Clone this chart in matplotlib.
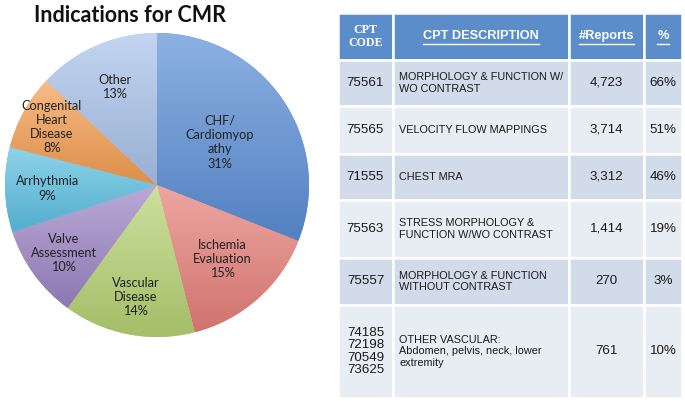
import matplotlib
matplotlib.use("Agg")
import matplotlib.pyplot as plt
import numpy as np
from matplotlib.lines import Line2D
from matplotlib.colors import to_rgb

# ---------------- data ----------------
pie_labels = ["CHF/\nCardiomyop\nathy", "Ischemia\nEvaluation", "Vascular\nDisease",
              "Valve\nAssessment", "Arrhythmia", "Congenital\nHeart\nDisease", "Other"]
pie_values = [31, 15, 14, 10, 9, 8, 13]
pie_colors = ["#5b8fd6", "#e7807a", "#b6d374", "#9c85c5", "#5cc1e2", "#f59e52", "#a9c3eb"]
label_dist = [0.50, 0.65, 0.75, 0.76, 0.72, 0.79, 0.70]

col_headers = ["CPT\nCODE", "CPT DESCRIPTION", "#Reports", "%"]
cpt_codes = ["75561", "75565", "71555", "75563", "75557", "74185\n72198\n70549\n73625"]
cpt_desc = ["MORPHOLOGY & FUNCTION W/\nWO CONTRAST", "VELOCITY FLOW MAPPINGS", "CHEST MRA",
            "STRESS MORPHOLOGY &\nFUNCTION W/WO CONTRAST", "MORPHOLOGY & FUNCTION\nWITHOUT CONTRAST",
            "OTHER VASCULAR:\nAbdomen, pelvis, neck, lower\nextremity"]
n_reports = ["4,723", "3,714", "3,312", "1,414", "270", "761"]
pct = ["66%", "51%", "46%", "19%", "3%", "10%"]

W, H = 685, 401
fig = plt.figure(figsize=(W / 100, H / 100), dpi=100)
fig.patch.set_facecolor("white")

# ---------------- pie ----------------
cx, cy, r = 157, 185, 152
axp = fig.add_axes([(cx - r) / W, (H - cy - r) / H, 2 * r / W, 2 * r / H])
wedges, _ = axp.pie(pie_values, colors=pie_colors, startangle=90, counterclock=False,
                    radius=1.0, wedgeprops=dict(linewidth=0))
axp.set_aspect("equal")
axp.axis("off")

# vertical light-to-dark shading inside each wedge (over the wedge's own extent)
for w, c in zip(wedges, pie_colors):
    base = np.array(to_rgb(c))
    top = base + (1 - base) * 0.30
    bot = base * 0.90
    t = np.linspace(0, 1, 256)[:, None]
    grad = top[None, :] * (1 - t) + bot[None, :] * t
    img = np.repeat(grad[:, None, :], 2, axis=1)
    ext = w.get_path().get_extents()
    im = axp.imshow(img, extent=[ext.x0, ext.x1, ext.y0, ext.y1], origin="upper", aspect="auto",
                    interpolation="bilinear", zorder=w.get_zorder() + 0.1)
    im.set_clip_path(w)
axp.set_xlim(-1, 1)
axp.set_ylim(-1, 1)

for w, lab, v, d in zip(wedges, pie_labels, pie_values, label_dist):
    ang = np.deg2rad((w.theta1 + w.theta2) / 2)
    axp.text(d * np.cos(ang), d * np.sin(ang), f"{lab}\n{v}%", ha="center", va="center",
             fontsize=9.2, family="Lato", color="#222222", linespacing=1.22, zorder=5)

fig.text(130 / W, 1 - 16 / H, "Indications for CMR", ha="center", va="center",
         fontsize=15.5, fontweight="bold", family="Lato", color="#111111")

# ---------------- table ----------------
axt = fig.add_axes([0, 0, 1, 1])
axt.axis("off")
tl, tr, tt, tb = 338, 682, 13, 398
col_w = [55, 176, 75, 38]
row_h = [47, 46, 48, 46, 58, 47, 93]
header_c = "#5a8dca"
row_cols = ["#d1dbea", "#e8ecf3"]

cell_text = [list(r_) for r_ in zip(cpt_codes, cpt_desc, n_reports, pct)]
tab = axt.table(cellText=cell_text, colLabels=col_headers,
                bbox=[tl / W, (H - tb) / H, (tr - tl) / W, (tb - tt) / H],
                cellLoc="center")
tab.auto_set_font_size(False)
for (ri, ci), cell in tab.get_celld().items():
    cell.set_width(col_w[ci] / sum(col_w))
    cell.set_height(row_h[ri] / sum(row_h))
    cell.set_edgecolor("white")
    cell.set_linewidth(1.8)
    txt = cell.get_text()
    if ri == 0:
        cell.set_facecolor(header_c)
        txt.set_color("white")
        if ci == 0:
            txt.set_fontfamily("Liberation Serif")
            txt.set_fontsize(8.6)
            txt.set_fontweight("bold")
            txt.set_linespacing(1.05)
        else:
            txt.set_fontfamily("Liberation Sans")
            txt.set_fontsize(9.2)
            txt.set_fontweight("bold")
    else:
        cell.set_facecolor(row_cols[(ri - 1) % 2])
        txt.set_color("#1a1a1a")
        txt.set_fontfamily("Liberation Sans")
        if ci == 1:
            cell._loc = "left"
            txt.set_horizontalalignment("left")
            cell.PAD = 6 / col_w[1]
            txt.set_fontsize(7.8)
            txt.set_linespacing(1.15)
        else:
            txt.set_fontsize(9.6)
            txt.set_linespacing(1.05)

fig.canvas.draw()
renderer = fig.canvas.get_renderer()
for ci in (1, 2, 3):
    t = tab[0, ci].get_text()
    bb = t.get_window_extent(renderer)
    y = bb.y0 - 1.0
    fig.add_artist(Line2D([bb.x0 / W, bb.x1 / W], [y / H, y / H], transform=fig.transFigure,
                          color="white", linewidth=1.0))

fig.savefig("out.png", dpi=100, facecolor="white")
